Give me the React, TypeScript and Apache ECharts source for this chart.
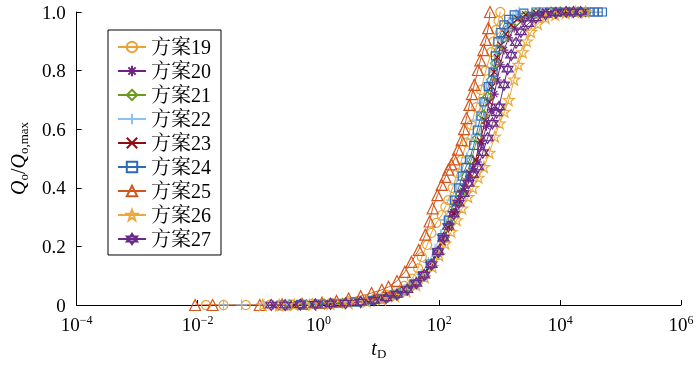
import React, { useEffect, useRef } from 'react';
import * as echarts from 'echarts';

// x values are log10(tD), y values are Qo/Qo,max
const seriesNames = ['方案19', '方案20', '方案21', '方案22', '方案23', '方案24', '方案25', '方案26', '方案27'];
const seriesColors = ['#EBA336', '#6E2283', '#6B9A1F', '#8CC0EE', '#8B0F14', '#2E6AB8', '#D3561C', '#E9A93C', '#6A2A8A'];

const scheme19: [number, number][] = [
  [-1.86, 0], [-1.57, 0], [-1.2, 0], [-0.8, 0.001], [-0.45, 0.002], [-0.1, 0.004], [0.2, 0.007], [0.5, 0.012],
  [0.75, 0.018], [0.95, 0.025], [1.12, 0.035], [1.28, 0.048], [1.42, 0.065], [1.55, 0.09], [1.65, 0.125],
  [1.71, 0.164], [1.8, 0.205], [1.87, 0.246], [1.95, 0.28], [2.04, 0.307], [2.1, 0.335], [2.15, 0.358],
  [2.22, 0.4], [2.3, 0.45], [2.37, 0.495], [2.45, 0.555], [2.53, 0.614], [2.61, 0.675], [2.69, 0.734],
  [2.77, 0.8], [2.86, 0.863], [2.9, 0.9], [2.94, 0.939], [2.98, 0.97], [3.01, 1.0],
];
const scheme20: [number, number][] = [
  [-0.75, 0], [-0.45, 0.001], [-0.1, 0.002], [0.25, 0.004], [0.55, 0.008], [0.85, 0.014], [1.1, 0.023],
  [1.3, 0.036], [1.48, 0.053], [1.63, 0.076], [1.76, 0.105], [1.88, 0.14], [1.99, 0.185], [2.08, 0.23],
  [2.17, 0.275], [2.25, 0.315], [2.32, 0.348], [2.4, 0.39], [2.48, 0.43], [2.56, 0.465], [2.63, 0.488],
  [2.7, 0.55], [2.78, 0.61], [2.86, 0.666], [2.91, 0.72], [2.96, 0.768], [3.01, 0.82], [3.07, 0.87],
  [3.15, 0.912], [3.24, 0.945], [3.37, 0.97], [3.52, 0.986], [3.7, 0.995], [3.93, 1.0], [4.1, 1.0],
  [4.25, 1.0], [4.42, 1.0],
];
const scheme21: [number, number][] = [
  [-0.48, 0], [-0.2, 0.001], [0.1, 0.003], [0.4, 0.006], [0.7, 0.011], [0.95, 0.018], [1.15, 0.026],
  [1.33, 0.038], [1.48, 0.054], [1.62, 0.075], [1.75, 0.1], [1.87, 0.135], [1.98, 0.18], [2.08, 0.23],
  [2.18, 0.285], [2.27, 0.335], [2.35, 0.38], [2.44, 0.44], [2.53, 0.495], [2.63, 0.57], [2.73, 0.648],
  [2.8, 0.71], [2.86, 0.768], [2.93, 0.825], [2.99, 0.87], [3.07, 0.912], [3.15, 0.945], [3.28, 0.97],
  [3.43, 0.986], [3.6, 0.995], [3.85, 1.0], [4.0, 1.0], [4.15, 1.0], [4.3, 1.0], [4.42, 1.0],
];
const scheme22: [number, number][] = [
  [-1.57, 0], [-1.27, 0], [-0.9, 0.001], [-0.5, 0.002], [-0.15, 0.004], [0.2, 0.006], [0.5, 0.01],
  [0.8, 0.016], [1.05, 0.024], [1.25, 0.036], [1.42, 0.052], [1.57, 0.075], [1.7, 0.105], [1.82, 0.145],
  [1.93, 0.19], [2.02, 0.24], [2.1, 0.29], [2.2, 0.358], [2.28, 0.41], [2.36, 0.455], [2.45, 0.502],
  [2.53, 0.565], [2.61, 0.631], [2.7, 0.69], [2.78, 0.751], [2.86, 0.81], [2.94, 0.863], [3.02, 0.905],
  [3.11, 0.939], [3.17, 0.962], [3.22, 0.98], [3.27, 0.992], [3.32, 1.0],
];
const scheme23: [number, number][] = [
  [-0.4, 0], [-0.1, 0.002], [0.2, 0.004], [0.5, 0.008], [0.8, 0.014], [1.05, 0.022], [1.25, 0.033],
  [1.43, 0.05], [1.58, 0.071], [1.71, 0.095], [1.84, 0.13], [1.95, 0.17], [2.05, 0.215], [2.15, 0.265],
  [2.24, 0.315], [2.32, 0.358], [2.4, 0.4], [2.5, 0.45], [2.6, 0.495], [2.68, 0.56], [2.76, 0.63],
  [2.83, 0.693], [2.87, 0.745], [2.91, 0.795], [2.96, 0.845], [3.02, 0.887], [3.1, 0.925], [3.19, 0.956],
  [3.3, 0.977], [3.43, 0.99], [3.6, 0.997], [3.76, 1.0], [3.95, 1.0], [4.1, 1.0], [4.26, 1.0],
];
const scheme24: [number, number][] = [
  [-0.62, 0], [-0.3, 0.002], [0.0, 0.003], [0.3, 0.006], [0.6, 0.01], [0.85, 0.016], [1.05, 0.023],
  [1.25, 0.035], [1.42, 0.05], [1.58, 0.072], [1.72, 0.1], [1.85, 0.14], [1.96, 0.18], [2.05, 0.23],
  [2.15, 0.29], [2.25, 0.358], [2.32, 0.4], [2.38, 0.44], [2.44, 0.47], [2.5, 0.495], [2.57, 0.545],
  [2.63, 0.597], [2.69, 0.645], [2.74, 0.693], [2.81, 0.745], [2.89, 0.795], [2.93, 0.85], [2.97, 0.898],
  [3.02, 0.93], [3.07, 0.956], [3.15, 0.975], [3.24, 0.99], [3.4, 0.996], [3.6, 1.0], [3.72, 1.0],
  [3.84, 1.0], [3.96, 1.0], [4.08, 1.0], [4.2, 1.0], [4.3, 1.0], [4.4, 1.0], [4.48, 1.0], [4.56, 1.0],
  [4.63, 1.0], [4.7, 1.0],
];
const scheme25: [number, number][] = [
  [-2.04, 0], [-1.75, 0], [-0.97, 0], [-0.6, 0.002], [-0.27, 0.004], [0.06, 0.008], [0.3, 0.014],
  [0.5, 0.022], [0.7, 0.03], [0.88, 0.041], [1.05, 0.052], [1.16, 0.062], [1.3, 0.082], [1.43, 0.113],
  [1.54, 0.147], [1.66, 0.188], [1.77, 0.24], [1.84, 0.285], [1.89, 0.33], [1.97, 0.375], [2.04, 0.41],
  [2.1, 0.437], [2.15, 0.462], [2.2, 0.48], [2.25, 0.497], [2.31, 0.53], [2.37, 0.563], [2.41, 0.6],
  [2.45, 0.638], [2.5, 0.683], [2.54, 0.72], [2.58, 0.751], [2.64, 0.802], [2.68, 0.835], [2.73, 0.87],
  [2.77, 0.905], [2.81, 0.945], [2.84, 1.0],
];
const scheme26: [number, number][] = [
  [-0.92, 0], [-0.65, 0], [-0.4, 0.001], [-0.1, 0.002], [0.2, 0.004], [0.5, 0.007], [0.8, 0.012],
  [1.05, 0.02], [1.27, 0.031], [1.46, 0.047], [1.62, 0.068], [1.76, 0.095], [1.89, 0.13], [2.0, 0.17],
  [2.1, 0.21], [2.2, 0.25], [2.29, 0.29], [2.38, 0.33], [2.48, 0.369], [2.56, 0.4], [2.65, 0.435],
  [2.74, 0.471], [2.83, 0.52], [2.92, 0.575], [3.0, 0.62], [3.08, 0.66], [3.15, 0.7], [3.24, 0.77],
  [3.31, 0.82], [3.38, 0.863], [3.45, 0.9], [3.52, 0.932], [3.63, 0.96], [3.76, 0.98], [3.92, 0.991],
  [4.09, 0.997], [4.25, 1.0], [4.42, 1.0],
];
const scheme27: [number, number][] = [
  [-0.78, 0], [-0.55, 0], [-0.3, 0.001], [-0.05, 0.002], [0.2, 0.004], [0.45, 0.006], [0.7, 0.01],
  [0.92, 0.016], [1.12, 0.024], [1.3, 0.036], [1.47, 0.052], [1.62, 0.074], [1.75, 0.102], [1.87, 0.138],
  [1.98, 0.182], [2.07, 0.228], [2.15, 0.268], [2.24, 0.31], [2.32, 0.348], [2.4, 0.38], [2.48, 0.415],
  [2.56, 0.445], [2.64, 0.471], [2.72, 0.52], [2.8, 0.57], [2.88, 0.62], [2.95, 0.656], [2.99, 0.676],
  [3.07, 0.751], [3.13, 0.805], [3.19, 0.853], [3.27, 0.895], [3.35, 0.932], [3.47, 0.96], [3.6, 0.98],
  [3.76, 0.992], [3.93, 0.997], [4.1, 1.0], [4.22, 1.0], [4.34, 1.0],
];

const seriesData = [scheme19, scheme20, scheme21, scheme22, scheme23, scheme24, scheme25, scheme26, scheme27];

const STAR = 'path://M5,0 L6.18,3.38 L9.76,3.45 L6.9,5.62 L7.94,9.05 L5,7 L2.06,9.05 L3.1,5.62 L0.24,3.45 L3.82,3.38 Z';
const HEXAGRAM = 'path://M5,0 L9.33,7.5 L0.67,7.5 Z M5,10 L0.67,2.5 L9.33,2.5 Z';
const seriesSymbols = [
  'circle',
  'path://M5,0 L5,10 M0,5 L10,5 M1.5,1.5 L8.5,8.5 M8.5,1.5 L1.5,8.5',
  'diamond',
  'path://M5,0 L5,10 M0,5 L10,5',
  'path://M0,0 L10,10 M10,0 L0,10',
  'rect',
  'triangle',
  STAR,
  HEXAGRAM,
];
const seriesSymbolSizes = [9, 9, 10, 11, 7, 8, 11, 11, 11];

const FONT = "'Liberation Serif', 'Times New Roman', 'Noto Serif CJK SC', 'Noto Sans CJK SC', serif";

export default function App() {
  const ref = useRef<HTMLDivElement>(null);
  useEffect(() => {
    if (!ref.current) return;
    const chart = echarts.init(ref.current, null, { renderer: 'svg' });
    const series = seriesNames.map((name, i) => ({
      name,
      type: 'line',
      data: seriesData[i],
      symbol: seriesSymbols[i],
      symbolSize: seriesSymbolSizes[i],
      showSymbol: true,
      showAllSymbol: true,
      lineStyle: { color: seriesColors[i], width: 1 },
      itemStyle: { color: 'rgba(255,255,255,0)', borderColor: seriesColors[i], borderWidth: 1.2 },
      emphasis: { disabled: true },
      z: 2,
    }));
    chart.setOption({
      animation: false,
      grid: { left: 72, right: 19, top: 12, bottom: 63 },
      xAxis: {
        type: 'value',
        min: -4,
        max: 6,
        interval: 2,
        splitLine: { show: false },
        axisLine: { onZero: false, lineStyle: { color: '#000', width: 1 } },
        axisTick: { inside: true, length: 5, lineStyle: { color: '#000' } },
        axisLabel: {
          margin: 9,
          formatter: (v: number) => `{b|10}{s|${v < 0 ? '\u2212' + -v : v}}`,
          rich: {
            b: { fontFamily: FONT, fontSize: 19, color: '#000', lineHeight: 20 },
            s: { fontFamily: FONT, fontSize: 12, color: '#000', verticalAlign: 'top', lineHeight: 12 },
          },
        },
        name: '{i|t}{d|D}',
        nameLocation: 'middle',
        nameGap: 33,
        nameTextStyle: {
          rich: {
            i: { fontFamily: FONT, fontSize: 20, fontStyle: 'italic', color: '#000', lineHeight: 20, padding: [0, 0, 3, 0] },
            d: { fontFamily: FONT, fontSize: 13, color: '#000', lineHeight: 13, verticalAlign: 'bottom' },
          },
        },
      },
      yAxis: {
        type: 'value',
        min: 0,
        max: 1,
        interval: 0.2,
        splitLine: { show: false },
        axisLine: { show: true, onZero: false, lineStyle: { color: '#000', width: 1 } },
        axisTick: { show: true, inside: true, length: 5, lineStyle: { color: '#000' } },
        axisLabel: {
          margin: 11,
          fontFamily: FONT,
          fontSize: 19,
          color: '#000',
          formatter: (v: number) => (v === 0 ? '0' : v.toFixed(1)),
        },
        name: '{i|Q}{d|o}{n|/}{i|Q}{d|o,max}',
        nameLocation: 'middle',
        nameGap: 42,
        nameTextStyle: {
          rich: {
            i: { fontFamily: FONT, fontSize: 20, fontStyle: 'italic', color: '#000', lineHeight: 20, padding: [0, 0, 3, 0] },
            n: { fontFamily: FONT, fontSize: 20, color: '#000', lineHeight: 20, padding: [0, 0, 3, 0] },
            d: { fontFamily: FONT, fontSize: 13, color: '#000', lineHeight: 13, verticalAlign: 'bottom' },
          },
        },
      },
      legend: {
        orient: 'vertical',
        left: 108,
        top: 30,
        padding: [7, 10, 6, 9],
        itemGap: 4,
        itemWidth: 28,
        itemHeight: 13,
        borderColor: '#000',
        borderWidth: 1,
        backgroundColor: '#fff',
        textStyle: { fontFamily: FONT, fontSize: 20, color: '#000' },
        data: seriesNames,
        z: 10,
      },
      series,
    });
    return () => chart.dispose();
  }, []);
  return <div ref={ref} style={{ position: 'fixed', left: 0, top: 0, width: 700, height: 368 }} />;
}
